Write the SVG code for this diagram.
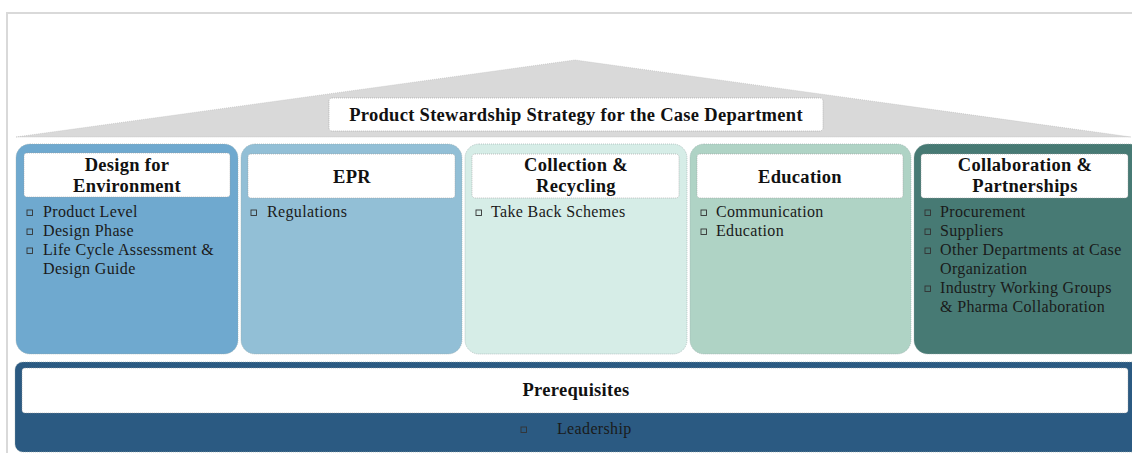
<svg xmlns="http://www.w3.org/2000/svg" width="1132" height="453" viewBox="0 0 1132 453">
  <style>
    .frame { fill: none; stroke: #d9d9d9; stroke-width: 2; }
    .roof { fill: #d9d9d9; stroke: #b8b8b8; stroke-width: 0.6; stroke-dasharray: 1 1; }
    .pillar { stroke: #9aa; stroke-width: 0.6; stroke-dasharray: 1 1; }
    .head { fill: #ffffff; stroke: #9a9a9a; stroke-width: 0.6; stroke-dasharray: 1 1; }
    .title { font-family: "Liberation Serif", serif; font-weight: bold; font-size: 18.5px; letter-spacing: 0.3px; fill: #111; text-anchor: middle; }
    .item { font-family: "Liberation Serif", serif; font-size: 16px; letter-spacing: 0.35px; fill: #1a1a1a; }
    .bullet { fill: none; stroke: #333; stroke-width: 0.9; }
  </style>

  <!-- page frame -->
  <rect class="frame" x="7" y="13" width="1140" height="460"/>

  <!-- roof -->
  <g id="roof">
    <polygon class="roof" points="16,137 575,60 1131,137"/>
    <rect class="head" x="329" y="98" width="494" height="33" rx="3"/>
    <text class="title" x="576" y="121">Product Stewardship Strategy for the Case Department</text>
  </g>

  <!-- pillar 1 -->
  <g id="design-for-environment">
    <rect class="pillar" x="16" y="144" width="222" height="210" rx="14" fill="#6fa9cf"/>
    <rect class="head" x="24" y="153" width="206" height="44" rx="3"/>
    <text class="title" x="127" y="171">Design for</text>
    <text class="title" x="127" y="192">Environment</text>
    <rect class="bullet" x="27" y="210" width="5.5" height="5.5"/>
    <text class="item" x="43" y="217">Product Level</text>
    <rect class="bullet" x="27" y="229" width="5.5" height="5.5"/>
    <text class="item" x="43" y="236">Design Phase</text>
    <rect class="bullet" x="27" y="248" width="5.5" height="5.5"/>
    <text class="item" x="43" y="255">Life Cycle Assessment &amp;</text>
    <text class="item" x="43" y="274">Design Guide</text>
  </g>

  <!-- pillar 2 -->
  <g id="epr">
    <rect class="pillar" x="241" y="144" width="221" height="210" rx="14" fill="#92bfd6"/>
    <rect class="head" x="248" y="154" width="207" height="44" rx="3"/>
    <text class="title" x="352" y="183">EPR</text>
    <rect class="bullet" x="251" y="210" width="5.5" height="5.5"/>
    <text class="item" x="267" y="217">Regulations</text>
  </g>

  <!-- pillar 3 -->
  <g id="collection-recycling">
    <rect class="pillar" x="465" y="144" width="222" height="210" rx="14" fill="#d6ede7"/>
    <rect class="head" x="472" y="154" width="207" height="44" rx="3"/>
    <text class="title" x="576" y="171">Collection &amp;</text>
    <text class="title" x="576" y="192">Recycling</text>
    <rect class="bullet" x="476" y="210" width="5.5" height="5.5"/>
    <text class="item" x="491" y="217">Take Back Schemes</text>
  </g>

  <!-- pillar 4 -->
  <g id="education">
    <rect class="pillar" x="690" y="144" width="221" height="210" rx="14" fill="#afd3c5"/>
    <rect class="head" x="697" y="154" width="206" height="44" rx="3"/>
    <text class="title" x="800" y="183">Education</text>
    <rect class="bullet" x="701" y="210" width="5.5" height="5.5"/>
    <text class="item" x="716" y="217">Communication</text>
    <rect class="bullet" x="701" y="229" width="5.5" height="5.5"/>
    <text class="item" x="716" y="236">Education</text>
  </g>

  <!-- pillar 5 -->
  <g id="collaboration-partnerships">
    <rect class="pillar" x="914" y="144" width="230" height="210" rx="14" fill="#477a74"/>
    <rect class="head" x="921" y="154" width="207" height="44" rx="3"/>
    <text class="title" x="1025" y="171">Collaboration &amp;</text>
    <text class="title" x="1025" y="192">Partnerships</text>
    <rect class="bullet" x="925" y="210" width="5.5" height="5.5"/>
    <text class="item" x="940" y="217">Procurement</text>
    <rect class="bullet" x="925" y="229" width="5.5" height="5.5"/>
    <text class="item" x="940" y="236">Suppliers</text>
    <rect class="bullet" x="925" y="248" width="5.5" height="5.5"/>
    <text class="item" x="940" y="255">Other Departments at Case</text>
    <text class="item" x="940" y="274">Organization</text>
    <rect class="bullet" x="925" y="286" width="5.5" height="5.5"/>
    <text class="item" x="940" y="293">Industry Working Groups</text>
    <text class="item" x="940" y="312">&amp; Pharma Collaboration</text>
  </g>

  <!-- foundation -->
  <g id="prerequisites">
    <rect class="pillar" x="15" y="362" width="1125" height="90" rx="8" fill="#2b5a82"/>
    <rect class="head" x="22" y="368" width="1106" height="45" rx="3"/>
    <text class="title" x="576" y="396">Prerequisites</text>
    <rect class="bullet" x="521" y="427" width="5.5" height="5.5"/>
    <text class="item" x="557" y="434">Leadership</text>
  </g>

  <!-- no connectors in this layout -->
  <g id="connectors"/>
</svg>
